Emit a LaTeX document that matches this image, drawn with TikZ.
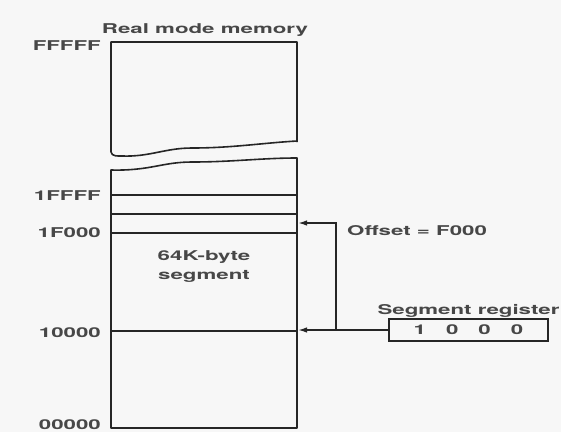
\documentclass[tikz,border=0pt]{standalone}
\usepackage{xcolor}
\usepackage{fontspec}
\setmainfont{TeX Gyre Heros}[FakeStretch=1.65]
\usepackage{tikz}
\usetikzlibrary{arrows.meta, positioning}

\definecolor{inkgray}{HTML}{262626}

\begin{document}
\begin{tikzpicture}[x=1pt, y=-1pt, every node/.style={inner sep=0pt, font=\fontsize{13.5}{16}\selectfont\bfseries, text=inkgray!85},
    wall/.style={draw=inkgray, line width=1.6pt, line join=round},
    addr/.style={anchor=base east},
    ptr/.style={draw=inkgray, line width=1.6pt, -{Latex[length=9pt, width=5.5pt]}}]
  \useasboundingbox [fill=gray!6] (0,0) rectangle (561,432);

  % memory column, broken in two
  \draw [wall] (297,142) -- (297,42) -- (111,42) -- (111,152) to[out=-80, in=180] (122,156)
    .. controls (150,157) and (165,148) .. (192,148) .. controls (232,148) and (262,143) .. (297,141);
  \draw [wall] (297,158) .. controls (262,158) and (232,162) .. (192,162)
    .. controls (162,162) and (150,171) .. (111,170) -- (111,428) -- (297,428) -- cycle;
  \draw [wall] (111,195) -- (297,195);
  \draw [wall] (111,214) -- (297,214);
  \draw [wall] (111,233) -- (297,233);
  \draw [wall] (111,331) -- (297,331);

  \node (mem_title) [anchor=base] at (205,33.5) {Real mode memory};
  \node (addr_fffff) [addr] at (101,50.5) {FFFFF};
  \node (addr_1ffff) [addr] at (101,200) {1FFFF};
  \node (addr_1f000) [addr] at (101,237) {1F000};
  \node (addr_10000) [addr] at (101,337) {10000};
  \node (addr_00000) [addr] at (101,429) {00000};

  \node (seg_text) [anchor=base, align=center] at (204,279) {64K-byte\\[3pt]segment};

  % segment register and the two pointers
  \node (seg_reg) [draw=inkgray, line width=1.6pt, minimum width=159pt, minimum height=22pt] at (468.5,330)
    {1\hspace{20pt}0\hspace{20pt}0\hspace{20pt}0};
  \node (seg_label) [anchor=base] at (468.5,314) {Segment register};
  \node (off_label) [anchor=base west] at (347,235) {Offset = F000};

  \coordinate (mem_base) at (298,330);
  \coordinate (mem_offset) at (298,223);
  \coordinate (tap) at (336,330);

  \draw [ptr] (seg_reg.west) -- (mem_base);
  \draw [ptr] (tap) |- (mem_offset);
\end{tikzpicture}
\end{document}
